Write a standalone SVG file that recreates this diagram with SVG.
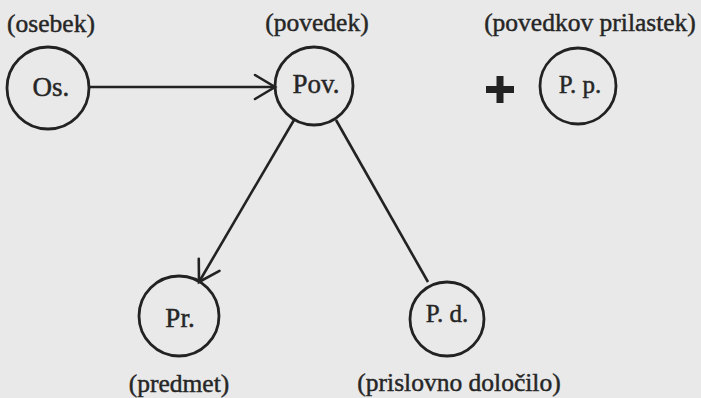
<svg xmlns="http://www.w3.org/2000/svg" width="701" height="398" viewBox="0 0 701 398">
  <style>
    .bg { fill: #e9e9e9; }
    .node circle { fill: none; stroke: #222; stroke-width: 2.8; }
    .lbl { font-family: 'Liberation Serif', 'Times New Roman', serif; fill: #262626; stroke: #262626; stroke-width: 0.45; text-anchor: middle; }
    .hdr { font-size: 25.5px; }
    .nl { font-size: 27px; }
    .ns { font-size: 25px; }
    .edge { fill: none; stroke: #222; stroke-width: 2.6; }
    .head { fill: none; stroke: #222; stroke-width: 2.6; stroke-linecap: round; stroke-linejoin: miter; }
  </style>
  <defs>
    <marker id="arrow" markerUnits="userSpaceOnUse" viewBox="-24 -14 28 28" markerWidth="28" markerHeight="28" refX="0" refY="0" orient="auto">
      <path class="head" d="M -20 -12 L 0 0 L -20 12"/>
    </marker>
  </defs>
  <rect class="bg" x="0" y="0" width="701" height="398"/>

  <g id="connectors">
    <line class="edge" x1="89" y1="87" x2="275" y2="87" marker-end="url(#arrow)"/>
    <line class="edge" x1="294" y1="120" x2="199" y2="282" marker-end="url(#arrow)"/>
    <line class="edge" x1="336" y1="120" x2="428" y2="282"/>
  </g>

  <g id="node-os" class="node">
    <circle cx="48" cy="88" r="41"/>
    <text class="lbl nl" x="51" y="96">Os.</text>
    <text class="lbl hdr" x="51" y="32">(osebek)</text>
  </g>

  <g id="node-pov" class="node">
    <circle cx="314" cy="86" r="39"/>
    <text class="lbl nl" x="316" y="93">Pov.</text>
    <text class="lbl hdr" x="317" y="31">(povedek)</text>
  </g>

  <g id="plus">
    <rect x="486" y="86" width="28" height="7" fill="#222"/>
    <rect x="496.5" y="76" width="7" height="27" fill="#222"/>
  </g>

  <g id="node-pp" class="node">
    <circle cx="578" cy="86" r="38"/>
    <text class="lbl ns" x="580" y="93">P. p.</text>
    <text class="lbl hdr" x="590" y="31">(povedkov prilastek)</text>
  </g>

  <g id="node-pr" class="node">
    <circle cx="179" cy="316" r="40"/>
    <text class="lbl nl" x="180" y="327">Pr.</text>
    <text class="lbl hdr" x="179" y="392">(predmet)</text>
  </g>

  <g id="node-pd" class="node">
    <circle cx="447" cy="319" r="37"/>
    <text class="lbl ns" x="447" y="322">P. d.</text>
    <text class="lbl hdr" x="459" y="391">(prislovno določilo)</text>
  </g>
</svg>
